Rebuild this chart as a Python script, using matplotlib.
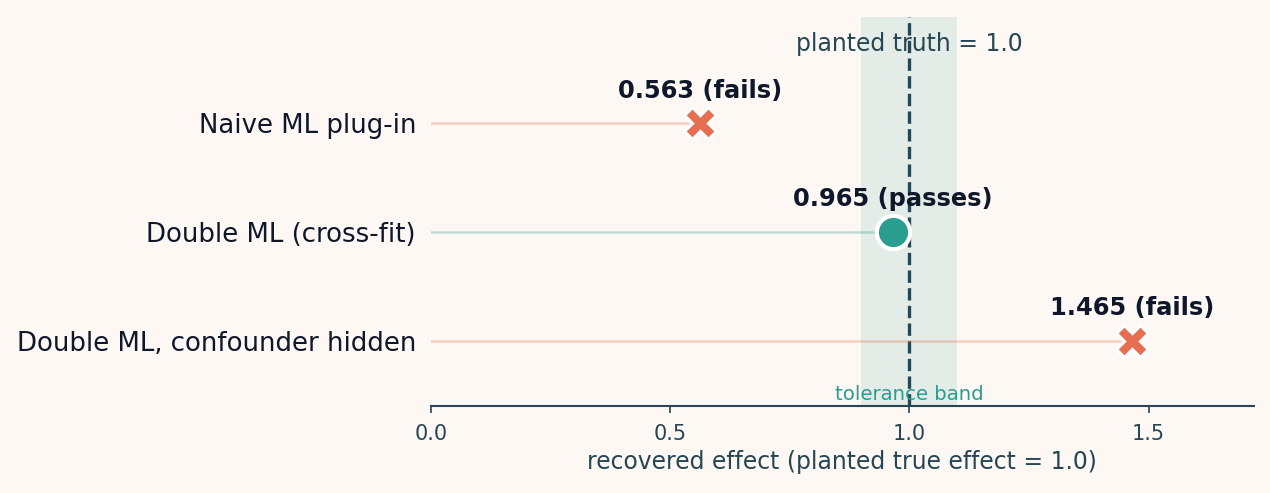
import numpy as np
import matplotlib.pyplot as plt

# Stime recuperate per ciascun metodo
methods = ['Naive ML plug-in', 'Double ML (cross-fit)', 'Double ML, confounder hidden']
estimates = [0.563, 0.965, 1.465]
passes = [False, True, False]
true_effect = 1.0
tolerance = 0.1
xticks = [0.0, 0.5, 1.0, 1.5]

bg = '#fdf8f4'
fail_col = '#e76f51'
pass_col = '#2a9d8f'
ink = '#0f172a'
slate = '#264653'

fig, ax = plt.subplots(figsize=(8.47, 3.287), dpi=150)
fig.patch.set_facecolor(bg)
ax.set_facecolor(bg)
fig.subplots_adjust(left=0.339, right=0.987, top=0.966, bottom=0.176)

ax.axvspan(true_effect - tolerance, true_effect + tolerance, color=pass_col, alpha=0.12, lw=0, zorder=0)
ax.axvline(true_effect, color=slate, ls='--', lw=1.6, zorder=1)

y = np.arange(len(methods))
for yi, est, ok in zip(y, estimates, passes):
    col = pass_col if ok else fail_col
    ax.plot([0, est], [yi, yi], color=col, alpha=0.3, lw=1.2, zorder=2)
    if ok:
        ax.plot(est, yi, 'o', ms=16, color=col, mec='white', mew=2, zorder=3)
    else:
        ax.plot(est, yi, 'X', ms=15, color=col, mec='white', mew=1.5, zorder=3)
    txt = f"{est:.3f} ({'passes' if ok else 'fails'})"
    ax.annotate(txt, (est, yi), xytext=(0, 10), textcoords='offset points',
                ha='center', va='bottom', fontsize=11.6, fontweight='bold', color=ink)

ax.text(true_effect, -0.73, 'planted truth = 1.0', ha='center', va='center', fontsize=11.3, color=slate)
ax.text(true_effect, 2.58, 'tolerance band', ha='center', va='bottom', fontsize=9.5, color=pass_col)

ax.set_yticks(y)
ax.set_yticklabels(methods, fontsize=12.5, color=ink)
ax.tick_params(axis='y', length=0, pad=7)
ax.set_xticks(xticks)
ax.tick_params(axis='x', colors=slate, labelsize=10, pad=5)
ax.set_xlim(0, 1.72)
ax.set_ylim(2.6, -0.98)
ax.set_xlabel('recovered effect (planted true effect = 1.0)', fontsize=11.3, color=slate, labelpad=3)

for s in ['top', 'right', 'left']:
    ax.spines[s].set_visible(False)
ax.spines['bottom'].set_color(slate)
ax.spines['bottom'].set_linewidth(1.0)

fig.savefig('out.png', facecolor=bg)
